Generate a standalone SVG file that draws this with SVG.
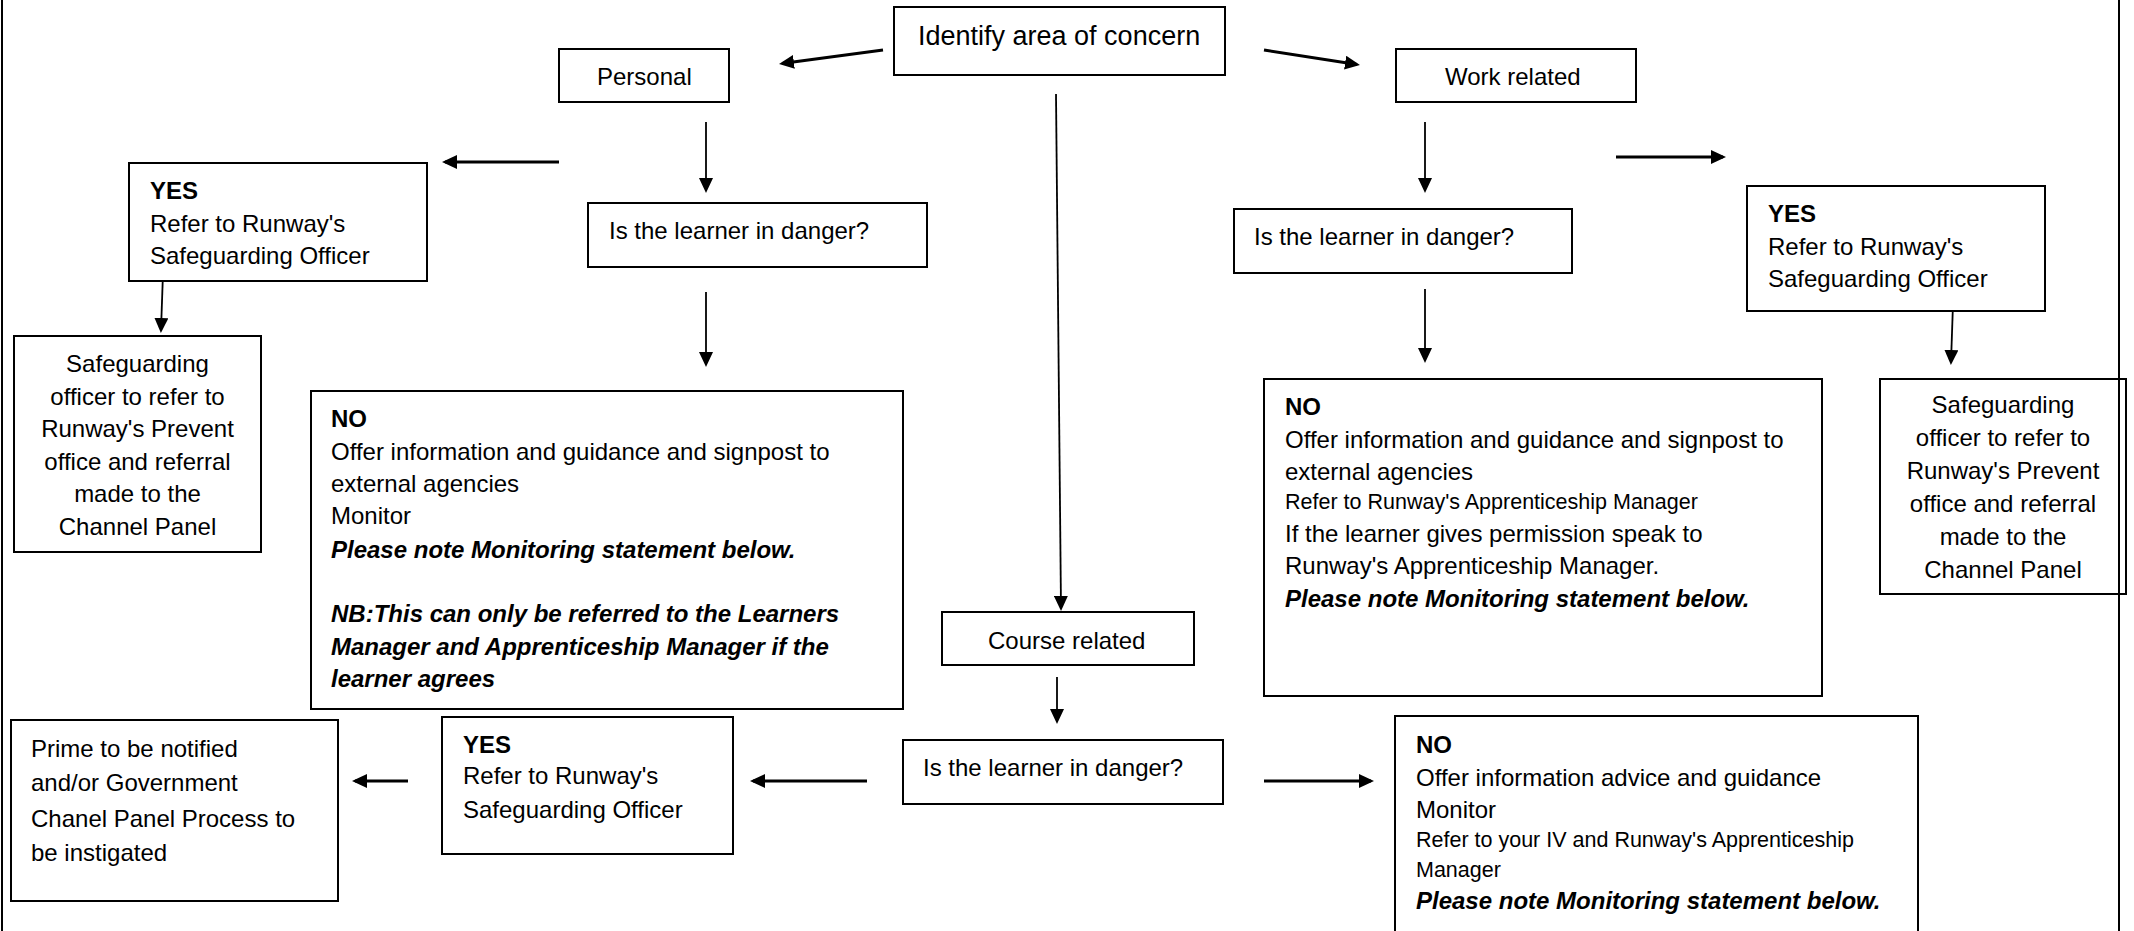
<svg xmlns="http://www.w3.org/2000/svg" width="2134" height="931" viewBox="0 0 2134 931">
<style>
.box{fill:#fff;stroke:#000;stroke-width:2}
.t{font-family:"Liberation Sans",Arial,sans-serif;font-size:24px;fill:#000}
.c{text-anchor:middle}
.b{font-weight:bold}
.bi{font-weight:bold;font-style:italic}
.s{font-size:21.5px}
.ttl{font-size:27px}
.thick{stroke:#000;stroke-width:3;fill:none;marker-end:url(#ah)}
.thin{stroke:#000;stroke-width:1.8;fill:none;marker-end:url(#ah)}
.border{stroke:#000;stroke-width:2}
</style>
<defs>
<marker id="ah" markerUnits="userSpaceOnUse" markerWidth="16" markerHeight="14" refX="12" refY="7" orient="auto">
<path d="M0,0 L15,7 L0,14 z" fill="#000"/>
</marker>
</defs>
<rect width="2134" height="931" fill="#fff"/>
<g id="connectors">
<line class="thick" x1="883" y1="50" x2="782" y2="63.5"/>
<line class="thick" x1="1264" y1="50" x2="1357" y2="64.5"/>
<line class="thin" x1="706" y1="122" x2="706" y2="190"/>
<line class="thick" x1="559" y1="162" x2="445" y2="162"/>
<line class="thin" x1="163" y1="273" x2="161" y2="330"/>
<line class="thin" x1="706" y1="292" x2="706" y2="364"/>
<line class="thin" x1="1425" y1="122" x2="1425" y2="190"/>
<line class="thin" x1="1425" y1="289" x2="1425" y2="360"/>
<line class="thick" x1="1616" y1="157" x2="1723" y2="157"/>
<line class="thin" x1="1953" y1="304" x2="1951" y2="362"/>
<line class="thin" x1="1056" y1="94" x2="1061" y2="608"/>
<line class="thin" x1="1057" y1="677" x2="1057" y2="721"/>
<line class="thick" x1="867" y1="781" x2="753" y2="781"/>
<line class="thick" x1="408" y1="781" x2="355" y2="781"/>
<line class="thick" x1="1264" y1="781" x2="1371" y2="781"/>
</g>
<g id="identify">
<rect class="box" x="894" y="7" width="331" height="68"/>
<text class="t ttl" x="918" y="45">Identify area of concern</text>
</g>
<g id="personal">
<rect class="box" x="559" y="49" width="170" height="53"/>
<text class="t" x="597" y="85">Personal</text>
</g>
<g id="work">
<rect class="box" x="1396" y="49" width="240" height="53"/>
<text class="t" x="1445" y="85">Work related</text>
</g>
<g id="danger-personal">
<rect class="box" x="588" y="203" width="339" height="64"/>
<text class="t" x="609" y="239">Is the learner in danger?</text>
</g>
<g id="danger-work">
<rect class="box" x="1234" y="209" width="338" height="64"/>
<text class="t" x="1254" y="245">Is the learner in danger?</text>
</g>
<g id="yes-personal">
<rect class="box" x="129" y="163" width="298" height="118"/>
<text class="t b" x="150" y="199">YES</text>
<text class="t" x="150" y="232">Refer to Runway's</text>
<text class="t" x="150" y="264">Safeguarding Officer</text>
</g>
<g id="yes-work">
<rect class="box" x="1747" y="186" width="298" height="125"/>
<text class="t b" x="1768" y="222">YES</text>
<text class="t" x="1768" y="255">Refer to Runway's</text>
<text class="t" x="1768" y="287">Safeguarding Officer</text>
</g>
<g id="safeguard-left">
<rect class="box" x="14" y="336" width="247" height="216"/>
<text class="t c" x="137.5" y="372">Safeguarding</text>
<text class="t c" x="137.5" y="404.5">officer to refer to</text>
<text class="t c" x="137.5" y="437">Runway's Prevent</text>
<text class="t c" x="137.5" y="469.5">office and referral</text>
<text class="t c" x="137.5" y="502">made to the</text>
<text class="t c" x="137.5" y="534.5">Channel Panel</text>
</g>
<g id="safeguard-right">
<rect class="box" x="1880" y="379" width="246" height="215"/>
<text class="t c" x="2003" y="413">Safeguarding</text>
<text class="t c" x="2003" y="446">officer to refer to</text>
<text class="t c" x="2003" y="479">Runway's Prevent</text>
<text class="t c" x="2003" y="512">office and referral</text>
<text class="t c" x="2003" y="545">made to the</text>
<text class="t c" x="2003" y="577.5">Channel Panel</text>
</g>
<g id="no-personal">
<rect class="box" x="311" y="391" width="592" height="318"/>
<text class="t b" x="331" y="427">NO</text>
<text class="t" x="331" y="460">Offer information and guidance and signpost to</text>
<text class="t" x="331" y="492">external agencies</text>
<text class="t" x="331" y="524">Monitor</text>
<text class="t bi" x="331" y="557.5">Please note Monitoring statement below.</text>
<text class="t bi" x="331" y="622">NB:This can only be referred to the Learners</text>
<text class="t bi" x="331" y="655">Manager and Apprenticeship Manager if the</text>
<text class="t bi" x="331" y="687">learner agrees</text>
</g>
<g id="no-work">
<rect class="box" x="1264" y="379" width="558" height="317"/>
<text class="t b" x="1285" y="415">NO</text>
<text class="t" x="1285" y="447.5">Offer information and guidance and signpost to</text>
<text class="t" x="1285" y="479.5">external agencies</text>
<text class="t s" x="1285" y="509">Refer to Runway's Apprenticeship Manager</text>
<text class="t" x="1285" y="541.5">If the learner gives permission speak to</text>
<text class="t" x="1285" y="574">Runway's Apprenticeship Manager.</text>
<text class="t bi" x="1285" y="606.5">Please note Monitoring statement below.</text>
</g>
<g id="course">
<rect class="box" x="942" y="612" width="252" height="53"/>
<text class="t" x="988" y="649">Course related</text>
</g>
<g id="danger-course">
<rect class="box" x="903" y="740" width="320" height="64"/>
<text class="t" x="923" y="776">Is the learner in danger?</text>
</g>
<g id="yes-course">
<rect class="box" x="442" y="717" width="291" height="137"/>
<text class="t b" x="463" y="752.5">YES</text>
<text class="t" x="463" y="784">Refer to Runway's</text>
<text class="t" x="463" y="817.5">Safeguarding Officer</text>
</g>
<g id="prime">
<rect class="box" x="11" y="720" width="327" height="181"/>
<text class="t" x="31" y="757">Prime to be notified</text>
<text class="t" x="31" y="791">and/or Government</text>
<text class="t" x="31" y="827">Chanel Panel Process to</text>
<text class="t" x="31" y="861">be instigated</text>
</g>
<g id="no-course">
<rect class="box" x="1395" y="716" width="523" height="240"/>
<text class="t b" x="1416" y="752.5">NO</text>
<text class="t" x="1416" y="786">Offer information advice and guidance</text>
<text class="t" x="1416" y="817.5">Monitor</text>
<text class="t s" x="1416" y="847">Refer to your IV and Runway's Apprenticeship</text>
<text class="t s" x="1416" y="877">Manager</text>
<text class="t bi" x="1416" y="909">Please note Monitoring statement below.</text>
</g>
<g id="page-border">
<line class="border" x1="2" y1="0" x2="2" y2="931"/>
<line class="border" x1="2119" y1="0" x2="2119" y2="931"/>
</g>
</svg>
